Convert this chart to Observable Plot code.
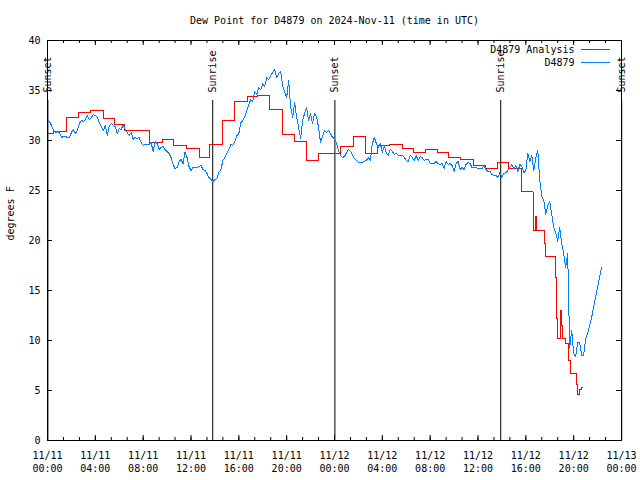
<!DOCTYPE html>
<html><head><meta charset="utf-8">
<script src="https://cdn.jsdelivr.net/npm/d3@7"></script>
<script src="https://cdn.jsdelivr.net/npm/@observablehq/plot@0.6"></script>
<style>body{margin:0;background:#fff} svg{display:block}</style>
</head><body><div id="chart"></div>
<script>
const title = "Dew Point for D4879 on 2024-Nov-11 (time in UTC)";
const yLabel = "degrees F";
const seriesNames = ["D4879 Analysis", "D4879"];
const seriesColors = ["#ff0000", "#0080ff"];
const startTime = "2024-11-11T00:00:00Z";
const endTime = "2024-11-13T00:00:00Z";
const xTickHours = [0, 4, 8, 12, 16, 20, 24, 28, 32, 36, 40, 44, 48];
const xMinorStepMinutes = 80;
const yTicks = [0, 5, 10, 15, 20, 25, 30, 35, 40];

// observed dew point (F), one value every 10 minutes from 11/11 00:00 UTC
const obsIntervalMinutes = 10;
const obsValues = [
32.1,31.9,31.5,31.0,30.8,30.9,30.8,30.3,30.4,30.4,
30.3,30.3,30.8,31.1,30.7,31.0,31.7,32.0,31.9,32.1,
32.5,32.1,32.3,32.6,32.5,32.3,31.8,31.4,31.0,31.5,
30.5,31.5,31.7,31.5,31.4,30.7,31.2,31.1,31.6,31.1,
30.8,30.5,30.8,30.1,30.3,30.2,30.3,29.8,29.5,29.6,
29.6,29.6,29.8,28.9,29.9,29.7,29.1,29.3,29.4,29.1,
28.9,28.7,28.3,27.6,27.2,27.3,27.9,28.1,27.7,28.8,
28.3,27.4,27.0,27.3,27.3,27.3,27.4,27.5,27.1,27.0,
26.7,26.3,26.1,25.9,26.1,26.2,26.8,27.1,28.0,28.3,
28.7,29.1,29.6,29.5,29.9,30.5,30.7,31.8,32.0,32.4,
33.0,33.6,34.1,33.9,34.9,34.6,35.3,35.1,35.7,35.4,
36.3,36.1,36.5,36.8,37.1,36.3,36.7,36.9,35.5,34.8,
34.3,36.0,33.3,32.3,33.8,32.3,31.3,30.2,32.0,32.7,
33.3,32.0,32.7,31.7,32.7,32.4,31.3,29.8,30.4,31.0,
30.8,31.0,30.7,30.3,30.2,29.7,29.0,28.5,28.3,28.4,
28.8,29.1,28.9,28.6,28.2,28.0,27.8,27.8,27.8,27.9,
28.0,28.3,28.0,29.7,30.3,29.7,29.3,29.7,28.8,29.5,
28.7,28.5,29.1,28.9,28.6,28.7,28.5,28.5,28.5,28.3,
28.0,27.9,28.5,28.3,28.0,28.5,28.0,28.4,28.3,28.0,
28.1,28.1,27.7,27.7,27.7,27.9,27.7,27.6,27.7,27.2,
27.9,27.6,27.7,27.5,26.9,27.7,27.9,27.1,27.3,27.1,
27.6,27.8,27.7,27.3,27.3,27.3,27.2,27.2,27.2,27.5,
27.1,26.9,26.9,26.6,26.5,26.5,26.3,26.8,26.3,26.7,
26.8,27.0,27.3,27.6,27.2,27.5,26.9,27.6,27.4,26.8,
27.0,28.7,27.9,28.5,27.0,28.3,29.0,26.0,24.4,24.0,
22.6,23.5,23.9,22.6,21.3,20.8,19.9,21.3,19.7,18.7,
17.3,18.7,9.3,11.0,8.7,8.4,9.8,9.8,8.5,8.5,
10.1,10.7,11.5,12.3,13.3,14.3,15.3,16.3,17.3
];

// analysis (step changes): hours since 11/11 00:00 UTC and value (F)
const analysisHours = [
0.00,0.53,1.59,2.57,3.60,4.66,5.60,6.44,8.55,9.64,10.56,11.62,12.74,13.57,14.61,
15.66,16.70,17.59,18.59,19.63,20.68,21.66,22.69,24.50,25.56,26.57,27.57,28.63,29.66,
30.63,31.61,32.59,33.56,34.54,35.60,36.63,37.61,38.58,39.61,40.60,40.67,40.81,40.87,
41.60,41.67,42.50,42.57,42.67,42.93,42.98,43.07,43.34,43.53,43.70,44.26,44.35,44.51,
44.62,44.72
];
const analysisValues = [
30.7,30.9,32.3,32.8,33.0,32.2,31.6,31.0,29.8,30.1,29.5,29.2,28.3,29.6,32.0,
33.9,34.4,34.5,33.1,30.6,29.9,28.0,28.7,29.4,30.4,28.7,29.5,29.6,29.2,
28.8,29.1,28.8,28.3,28.1,27.5,27.2,27.8,27.2,24.9,22.9,21.0,22.4,21.0,
19.7,18.4,16.3,12.2,10.2,13.0,11.5,10.2,9.7,8.0,6.7,5.6,4.6,5.1,
5.3,5.3
];

const sunEventTimes = ["2024-11-11T00:02Z","2024-11-11T13:49Z","2024-11-12T00:02Z","2024-11-12T13:54Z","2024-11-13T00:01Z"];
const sunEventLabels = ["Sunset","Sunrise","Sunset","Sunrise","Sunset"];

// ---- build tables ----
const t0 = new Date(startTime), t1 = new Date(endTime);
const hourMs = 3600e3;
const obs = obsValues.map((v, i) => ({time: new Date(+t0 + i * obsIntervalMinutes * 60e3), value: v}));
const analysis = analysisHours.map((h, i) => ({time: new Date(+t0 + h * hourMs), value: analysisValues[i]}));
const sun = sunEventTimes.map((t, i) => ({time: new Date(t), label: sunEventLabels[i]}));
const majorTicks = xTickHours.map(h => new Date(+t0 + h * hourMs));
const minorTicks = d3.range(0, 48 * 60 + 1, xMinorStepMinutes).map(m => new Date(+t0 + m * 60e3));

const W = 640, H = 480, mL = 47, mR = 19, mT = 40, mB = 40;
const plotW = W - mL - mR, plotH = H - mT - mB;
const black = "black";
const sunLineTop = 34;
const legendDy = [9, 22];

const chart = Plot.plot({
  width: W, height: H,
  marginLeft: mL, marginRight: mR, marginTop: mT, marginBottom: mB,
  style: {fontFamily: "DejaVu Sans Mono", fontSize: "10px", color: "black", background: "white"},
  x: {type: "utc", domain: [t0, t1]},
  y: {domain: [0, 40]},
  marks: [
    // ticks (inward)
    Plot.ruleX(minorTicks, {x: d => d, insetTop: plotH - 3, stroke: black}),
    Plot.ruleX(minorTicks, {x: d => d, insetBottom: plotH - 3, stroke: black}),
    Plot.ruleX(majorTicks, {x: d => d, insetTop: plotH - 5, stroke: black}),
    Plot.ruleX(majorTicks, {x: d => d, insetBottom: plotH - 5, stroke: black}),
    Plot.ruleY(yTicks, {y: d => d, insetRight: plotW - 5, stroke: black}),
    Plot.ruleY(yTicks, {y: d => d, insetLeft: plotW - 5, stroke: black}),
    Plot.axisX({ticks: majorTicks, tickSize: 0, tickPadding: 9, label: null, lineHeight: 1.3,
      tickFormat: d3.utcFormat("%m/%d\n%H:%M"), fill: black}),
    Plot.axisY({ticks: yTicks, tickSize: 0, tickPadding: 7, label: null, fill: black}),
    // sunrise / sunset
    Plot.ruleX(sun, {x: "time", y1: 0, y2: sunLineTop, stroke: black}),
    Plot.text(sun, {x: "time", y: sunLineTop, dy: -8, text: "label", rotate: -90, textAnchor: "start", fill: black}),
    // series
    Plot.line(analysis, {x: "time", y: "value", curve: "step-after", stroke: seriesColors[0], strokeWidth: 1, shapeRendering: "crispEdges"}),
    Plot.line(obs, {x: "time", y: "value", stroke: seriesColors[1], strokeWidth: 1, shapeRendering: "crispEdges"}),
    Plot.frame({stroke: black}),
    // title, y label, legend
    Plot.text([title], {frameAnchor: "top", dy: -20, lineAnchor: "middle", fill: black}),
    Plot.text([yLabel], {frameAnchor: "left", dx: -37, rotate: -90, fill: black}),
    Plot.text([seriesNames[0]], {frameAnchor: "top-right", dx: -47, dy: legendDy[0], lineAnchor: "middle", textAnchor: "end", fill: black}),
    Plot.text([seriesNames[1]], {frameAnchor: "top-right", dx: -47, dy: legendDy[1], lineAnchor: "middle", textAnchor: "end", fill: black})
  ]
});

// legend swatches
const svg = d3.select(chart);
const legX1 = W - mR - 40, legX2 = W - mR - 11;
legendDy.forEach((dy, i) => {
  svg.append("line").attr("x1", legX1).attr("x2", legX2)
    .attr("y1", mT + dy).attr("y2", mT + dy)
    .attr("stroke", seriesColors[i]).attr("stroke-width", 1)
    .attr("shape-rendering", "crispEdges");
});
document.getElementById("chart").appendChild(chart);
</script>
</body></html>
